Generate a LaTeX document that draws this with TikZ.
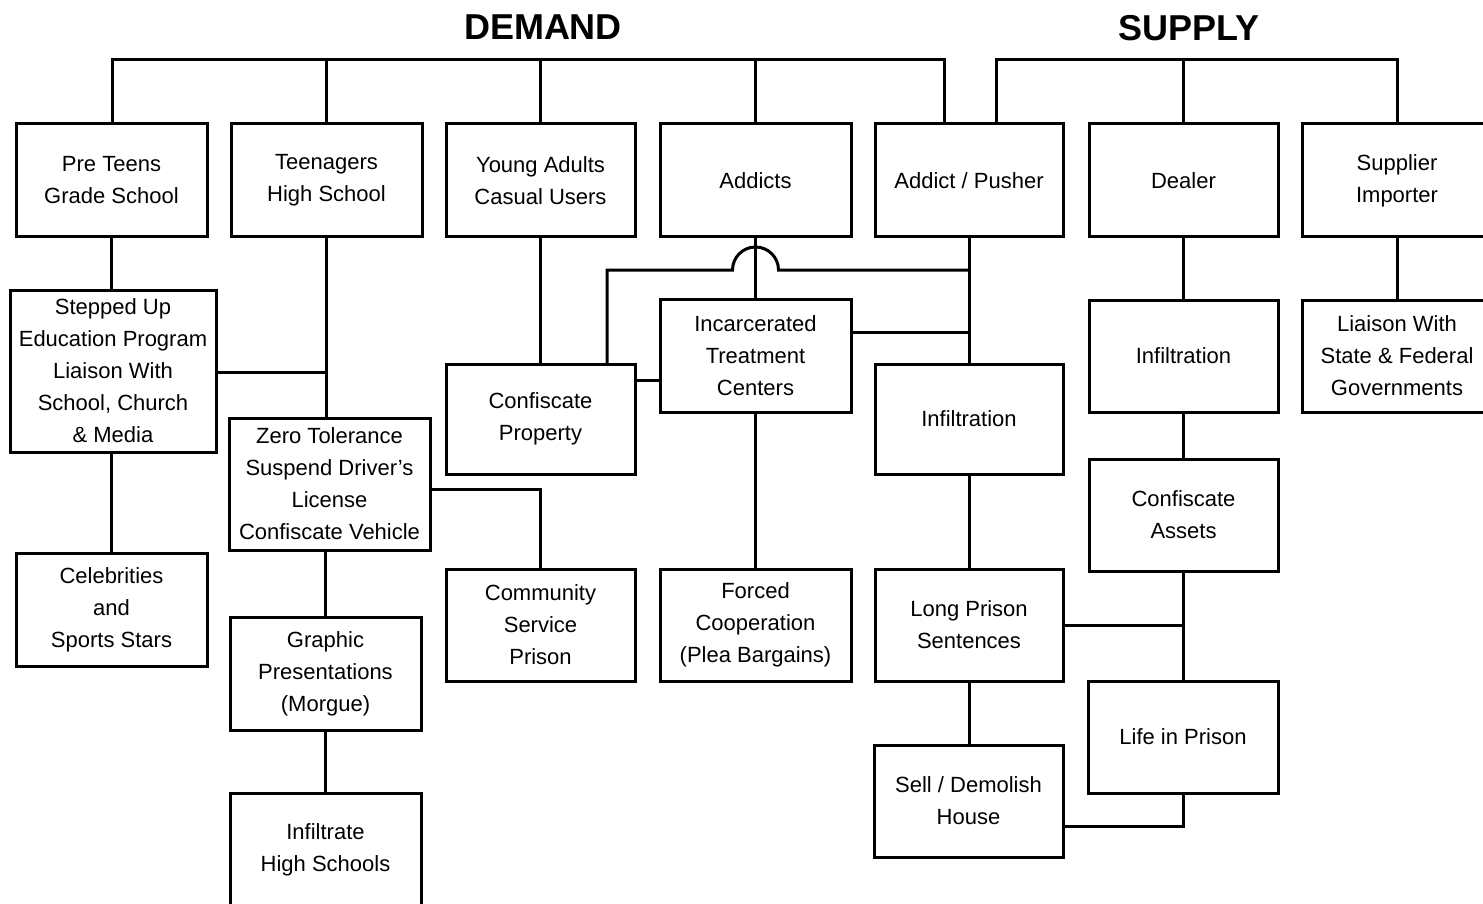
\documentclass[tikz,border=0pt]{standalone}
\usepackage{fontspec}
\setmainfont{Liberation Sans}
\begin{document}
\begin{tikzpicture}[x=1pt,y=-1pt,
  box/.style={draw,line width=3pt,inner sep=0pt,align=center,
    font=\fontsize{22}{32}\selectfont,minimum height=112pt},
  w191/.style={minimum width=191pt},
  w189/.style={minimum width=189pt},
  conn/.style={line width=3pt,line cap=rect},
  title/.style={font=\bfseries\fontsize{36}{40}\selectfont,inner sep=0pt}]
\fill[white] (0,0) rectangle (1483,904);
\useasboundingbox (0,0) rectangle (1483,904);
% titles
\node[title] (demand) at (543,27) {DEMAND};
\node[title] (supply) at (1189,28) {SUPPLY};
% top row
\node[box,w191,minimum height=113pt] (pre) at (111.5,180.5) {Pre Teens\\Grade School};
\node[box,w191,minimum height=113pt] (teen) at (326.5,180.5) {Teenagers\\High School};
\node[box,w189,minimum height=113pt] (ya) at (540.5,180.5) {Young Adults\\Casual Users};
\node[box,w191,minimum height=113pt] (add) at (755.5,180.5) {Addicts};
\node[box,minimum width=188pt,minimum height=113pt] (ap) at (969,180.5) {Addict / Pusher};
\node[box,w189,minimum height=113pt] (dealer) at (1183.5,180.5) {Dealer};
\node[box,minimum width=190pt,minimum height=113pt] (sup) at (1397,180.5) {Supplier\\Importer};
% demand lower boxes
\node[box,minimum width=206pt,minimum height=162pt] (step) at (113,371) {Stepped Up\\Education Program\\Liaison With\\School, Church\\\& Media};
\node[box,minimum width=201pt,minimum height=132pt] (zero) at (329.5,484) {Zero Tolerance\\Suspend Driver's\\License\\Confiscate Vehicle};
\node[box,w191,minimum height=113pt] (celeb) at (111.5,609.5) {Celebrities\\and\\Sports Stars};
\node[box,w191,minimum height=113pt] (graphic) at (325.5,673.5) {Graphic\\Presentations\\(Morgue)};
\node[box,w191,minimum height=113pt] (infhs) at (325.5,849.5) {Infiltrate\\High Schools};
\node[box,w189,minimum height=110pt] (cprop) at (540.5,419) {Confiscate\\Property};
\node[box,w189] (commu) at (540.5,625) {Community\\Service\\Prison};
\node[box,w191,minimum height=113pt] (incar) at (755.5,355.5) {Incarcerated\\Treatment\\Centers};
\node[box,w191] (forced) at (755.5,625) {Forced\\Cooperation\\(Plea Bargains)};
% supply lower boxes
\node[box,minimum width=188pt,minimum height=110pt] (infd) at (969,419) {Infiltration};
\node[box,minimum width=188pt] (longp) at (969,625) {Long Prison\\Sentences};
\node[box,w189] (sell) at (968.5,801) {Sell / Demolish\\House};
\node[box,w189] (infs) at (1183.5,356) {Infiltration};
\node[box,w189] (cassets) at (1183.5,515) {Confiscate\\Assets};
\node[box,minimum width=190pt] (life) at (1183,737) {Life in Prison};
\node[box,minimum width=190pt] (liaison) at (1397,356) {Liaison With\\State \& Federal\\Governments};
% buses
\coordinate (dbL) at (112,60);
\coordinate (dbR) at (944,60);
\coordinate (sbL) at (996,60);
\coordinate (sbR) at (1397,60);
\draw[conn] (dbL |- pre.north) -- (dbL) -- (dbR) -- (dbR |- ap.north);
\draw[conn] (teen.north) -- (teen.north |- dbL);
\draw[conn] (ya.north) -- (ya.north |- dbL);
\draw[conn] (add.north) -- (add.north |- dbL);
\draw[conn] (sbL |- ap.north) -- (sbL) -- (sbR) -- (sbR |- sup.north);
\draw[conn] (dealer.north) -- (dealer.north |- sbL);
% demand connectors
\draw[conn] (pre.south) -- (pre.south |- step.north);
\draw[conn] (pre.south |- step.south) -- (pre.south |- celeb.north);
\draw[conn] (teen.south) -- (teen.south |- zero.north);
\draw[conn] ([yshift=-1pt]step.east) -- ([yshift=-1pt]step.east -| teen.south);
\draw[conn] (graphic.north |- zero.south) -- (graphic.north);
\draw[conn] (graphic.south) -- (infhs.north);
\draw[conn] ([yshift=-5pt]zero.east) -| (commu.north);
\draw[conn] (ya.south) -- (cprop.north);
\draw[conn] (cprop.east |- 0,380) -- (incar.west |- 0,380);
\draw[conn] (add.south) -- (incar.north);
\draw[conn] (incar.south) -- (forced.north);
\coordinate (h1) at (607,270);
\draw[conn] (h1 |- cprop.north) -- (h1) -- (732.5,270)
  arc[start angle=180,end angle=0,radius=23pt] -- (ap.south |- h1);
\draw[conn] (incar.east |- 0,332) -- (ap.south |- 0,332);
% supply connectors
\draw[conn] (ap.south) -- (infd.north);
\draw[conn] (infd.south) -- (longp.north);
\draw[conn] (longp.south) -- (longp.south |- sell.north);
\draw[conn] (dealer.south) -- (infs.north);
\draw[conn] (infs.south) -- (cassets.north);
\draw[conn] (cassets.south) -- (cassets.south |- life.north);
\draw[conn] (longp.east) -- (longp.east -| cassets.south);
\draw[conn] (life.south) |- ([yshift=-25pt]sell.east);
\draw[conn] (sup.south) -- (liaison.north);
\end{tikzpicture}
\end{document}
